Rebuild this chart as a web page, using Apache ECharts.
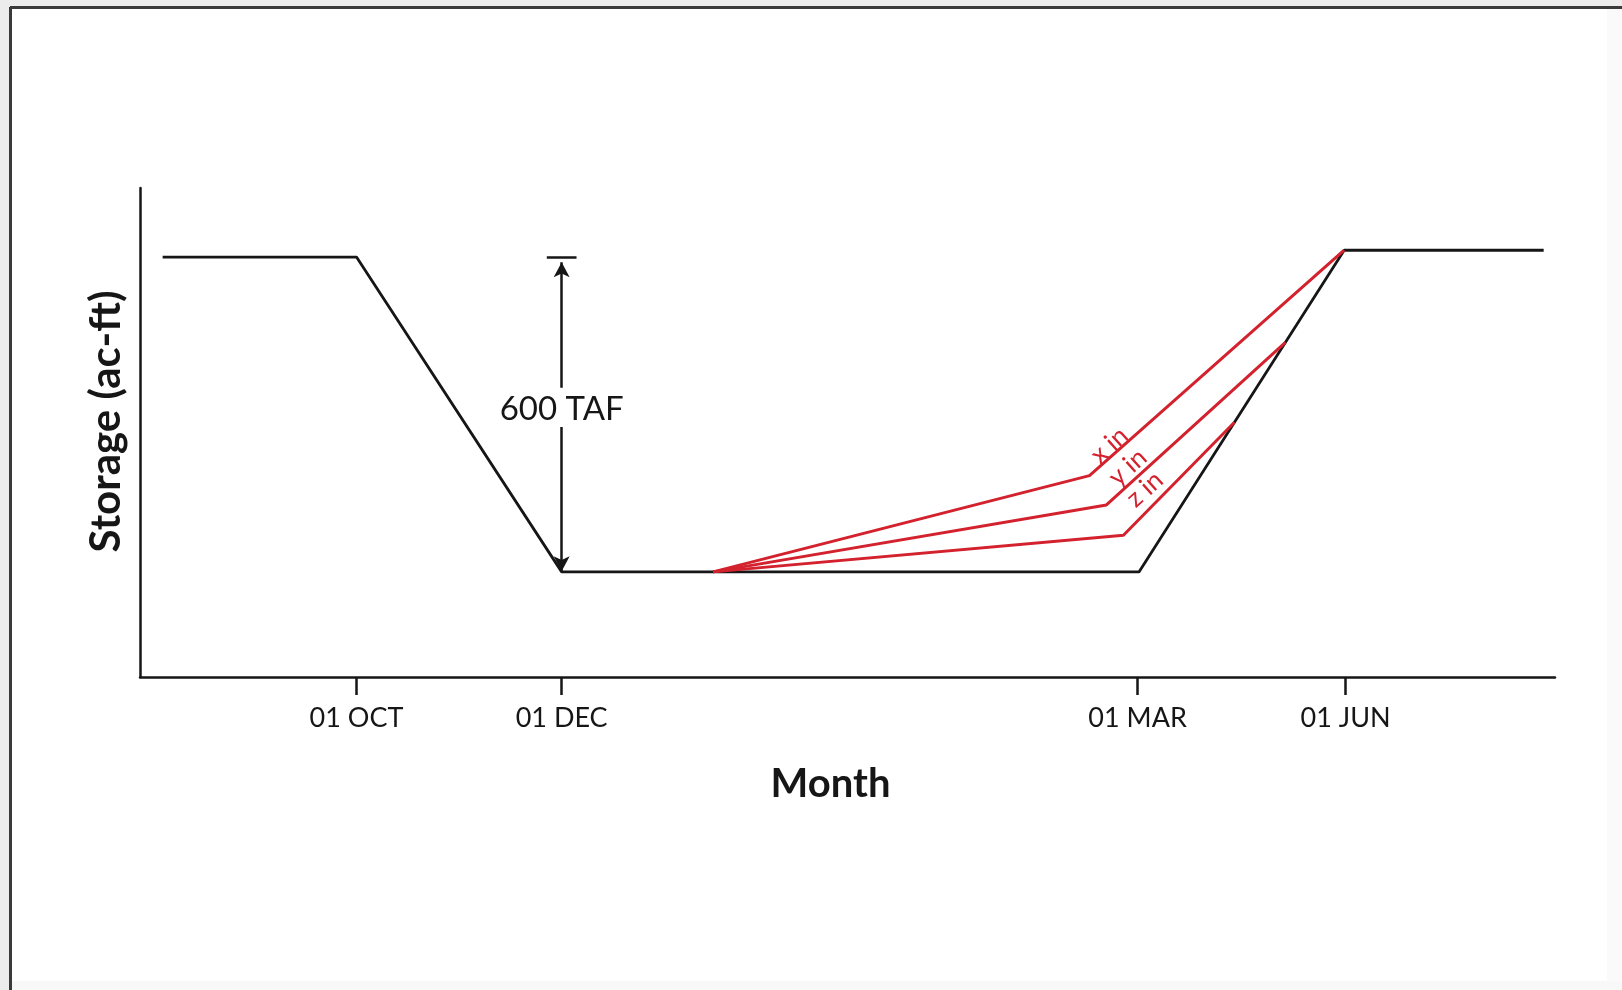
<!DOCTYPE html>
<html>
<head>
<meta charset="utf-8">
<script src="https://cdn.jsdelivr.net/npm/echarts@6/dist/echarts.min.js"></script>
<style>
html,body{margin:0;padding:0;background:#fff;}
#chart{width:1622px;height:990px;}
</style>
</head>
<body>
<div id="chart"></div>
<script>
// ---- data (schematic units) ----
const xTickValues = [15.3, 29.8, 70.5, 85.2];
const xTickLabels = ['01 OCT', '01 DEC', '01 MAR', '01 JUN'];

const baseX = [1.6, 15.3, 29.8, 70.6, 85.1, 99.2];
const baseY = [803, 803, 201, 201, 816, 816];

const xInX = [40.5, 67.1, 85.1];
const xInY = [201, 385, 816];
const yInX = [40.5, 68.3, 80.95];
const yInY = [201, 329, 640];
const zInX = [40.5, 69.5, 77.35];
const zInY = [201, 271, 487];

const redLabels = ['x in', 'y in', 'z in'];
const redLabelX = [68.5, 69.8, 71.0];
const redLabelY = [443, 401, 359];

const spanX = 29.8;
const spanTop = 803;
const spanArrowTop = 793;
const spanGapTop = 553;
const spanGapBottom = 478;
const spanBottom = 202;
const spanBarHalf = 1.05;
const spanLabel = '600 TAF';
const spanLabelY = 512;

const xName = 'Month';
const yName = 'Storage (ac-ft)';

// ---- build ----
const zip = (xs, ys) => xs.map((x, i) => [x, ys[i]]);
const BLACK = '#161616';
const RED = '#d3222e';
const FONT = 'Lato';

const chart = echarts.init(document.getElementById('chart'), null, {renderer: 'canvas'});

const option = {
  animation: false,
  backgroundColor: '#ffffff',
  graphic: [
    {type: 'rect', shape: {x: 0, y: 0, width: 1622, height: 7}, style: {fill: '#ececec'}, silent: true, z: -10},
    {type: 'rect', shape: {x: 0, y: 0, width: 9, height: 990}, style: {fill: '#ececec'}, silent: true, z: -10},
    {type: 'rect', shape: {x: 1607, y: 8, width: 15, height: 982}, style: {fill: '#fafafa'}, silent: true, z: -10},
    {type: 'rect', shape: {x: 10, y: 981, width: 1612, height: 9}, style: {fill: '#f8f8f8'}, silent: true, z: -10},
    {type: 'line', shape: {x1: 10, y1: 7.5, x2: 1622, y2: 7.5}, style: {stroke: '#3a3a3a', lineWidth: 3}, silent: true},
    {type: 'line', shape: {x1: 10.5, y1: 7, x2: 10.5, y2: 990}, style: {stroke: '#3a3a3a', lineWidth: 3}, silent: true}
  ],
  grid: {left: 140, right: 67, top: 188, bottom: 313, containLabel: false},
  xAxis: {
    type: 'value',
    min: 0,
    max: 100,
    name: xName,
    nameLocation: 'middle',
    nameGap: 87,
    nameTextStyle: {fontFamily: FONT, fontWeight: 'bold', fontSize: 40, color: BLACK, padding: [0, 34, 0, 0]},
    axisLine: {show: true, lineStyle: {color: BLACK, width: 2.5}},
    axisTick: {show: true, customValues: xTickValues, length: 18, inside: false, lineStyle: {color: BLACK, width: 2.5}},
    axisLabel: {
      show: true,
      customValues: xTickValues,
      margin: 28,
      fontFamily: FONT,
      fontSize: 27,
      color: BLACK,
      formatter: function (v) {
        const i = xTickValues.findIndex(t => Math.abs(t - v) < 1e-6);
        return i >= 0 ? xTickLabels[i] : '';
      }
    },
    splitLine: {show: false}
  },
  yAxis: {
    type: 'value',
    min: 0,
    max: 935,
    name: yName,
    nameLocation: 'middle',
    nameGap: 13,
    nameRotate: 90,
    nameTextStyle: {fontFamily: FONT, fontWeight: 'bold', fontSize: 42, color: BLACK, padding: [0, 0, 0, 22]},
    axisLine: {show: true, lineStyle: {color: BLACK, width: 2.5}},
    axisTick: {show: false},
    axisLabel: {show: false},
    splitLine: {show: false}
  },
  series: [
    {
      name: 'base',
      type: 'line',
      data: zip(baseX, baseY),
      symbol: 'none',
      lineStyle: {color: BLACK, width: 2.8},
      z: 3,
      markLine: {
        silent: true,
        animation: false,
        label: {show: false},
        lineStyle: {color: BLACK, width: 2.5, type: 'solid'},
        emphasis: {disabled: true},
        data: [
          [
            {coord: [spanX, spanArrowTop], symbol: 'arrow', symbolSize: [12, 15]},
            {coord: [spanX, spanGapTop], symbol: 'none'}
          ],
          [
            {coord: [spanX, spanGapBottom], symbol: 'none'},
            {coord: [spanX, spanBottom], symbol: 'arrow', symbolSize: [12, 15]}
          ],
          [
            {coord: [spanX - spanBarHalf, spanTop], symbol: 'none'},
            {coord: [spanX + spanBarHalf, spanTop], symbol: 'none'}
          ]
        ]
      }
    },
    {name: 'x in', type: 'line', data: zip(xInX, xInY), symbol: 'none', lineStyle: {color: RED, width: 3}, z: 4},
    {name: 'y in', type: 'line', data: zip(yInX, yInY), symbol: 'none', lineStyle: {color: RED, width: 3}, z: 4},
    {name: 'z in', type: 'line', data: zip(zInX, zInY), symbol: 'none', lineStyle: {color: RED, width: 3}, z: 4},
    {
      name: 'red labels',
      type: 'scatter',
      symbolSize: 1,
      itemStyle: {color: 'rgba(0,0,0,0)', opacity: 1},
      z: 6,
      label: {
        show: true,
        position: 'inside',
        rotate: 42,
        fontFamily: FONT,
        fontSize: 26,
        color: RED,
        formatter: p => redLabels[p.dataIndex]
      },
      data: zip(redLabelX, redLabelY)
    },
    {
      name: 'span label',
      type: 'scatter',
      symbolSize: 1,
      itemStyle: {color: 'rgba(0,0,0,0)', opacity: 1},
      z: 7,
      label: {
        show: true,
        position: 'inside',
        fontFamily: FONT,
        fontSize: 33,
        color: BLACK,
        formatter: () => spanLabel
      },
      data: [[spanX, spanLabelY]]
    }
  ]
};
chart.setOption(option);
</script>
</body>
</html>
